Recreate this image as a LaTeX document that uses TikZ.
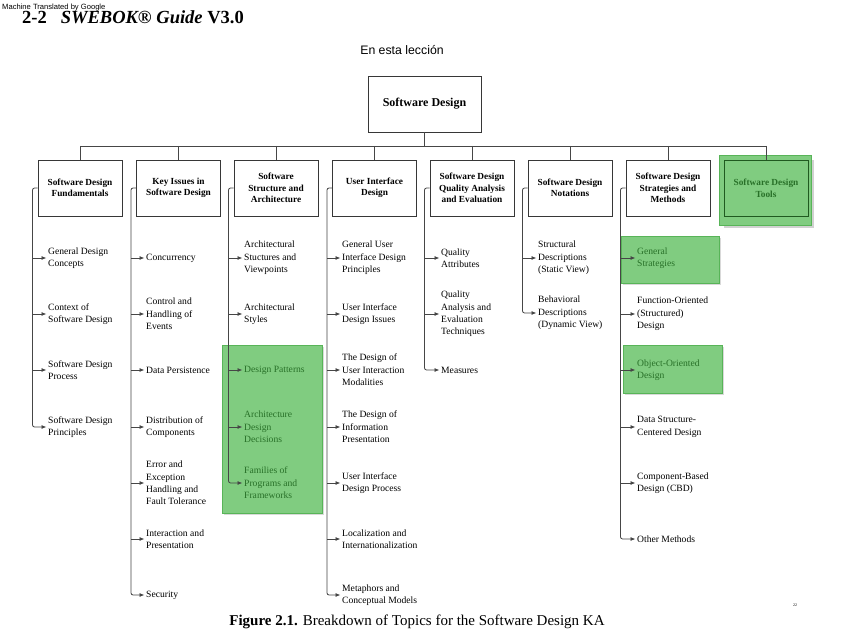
\documentclass[tikz,border=0pt]{standalone}
\usepackage{fontspec}
\setmainfont{Liberation Serif}
\newfontfamily\arialf{Liberation Sans}
\usetikzlibrary{arrows.meta,calc}
\definecolor{hlfill}{RGB}{128,204,128}
\definecolor{hlline}{RGB}{88,180,88}
\definecolor{hltext}{RGB}{40,112,40}
\definecolor{lnc}{RGB}{70,70,70}
\definecolor{boxc}{RGB}{55,55,55}
\begin{document}
\begin{tikzpicture}[x=1pt,y=-1pt,
  topbox/.style={draw=boxc,line width=0.9pt,minimum width=84pt,minimum height=56pt,align=center,inner sep=1pt,font=\fontsize{9.3}{11.5}\selectfont\bfseries},
  child/.style={anchor=west,align=left,inner sep=0pt,font=\fontsize{9.6}{12.4}\selectfont},
  gchild/.style={child,text=hltext},
  conn/.style={draw=lnc,line width=0.8pt},
  arr/.style={conn,-{Latex[length=5pt,width=4pt]},shorten >=1.5pt},
  hl/.style={fill=hlfill,draw=hlline,line width=0.8pt}
]
\useasboundingbox (0,0) rectangle (848,636);
\fill[white] (0,0) rectangle (848,636);

% header
\node[anchor=west,inner sep=0pt,font=\arialf\fontsize{7.6}{8}\selectfont] (mt) at (2,8) {Machine Translated by Google};
\node[anchor=base west,inner sep=0pt,font=\fontsize{18.5}{20}\selectfont\bfseries] (hdr) at (22,24) {2-2\hspace{14pt}\textit{SWEBOK® Guide} V3.0};
\node[inner sep=0pt,font=\arialf\fontsize{12.3}{14}\selectfont] (lesson) at (402,50) {En esta lección};

% root
\node[draw=boxc,line width=0.9pt,minimum width=113pt,minimum height=56pt,font=\fontsize{12}{14}\selectfont\bfseries] (root) at (424.5,104) {Software Design};

% highlights behind
\fill[black!18] (724,160) rectangle (814,228);
\draw[hl] (719,155) rectangle (811,225);
\fill[black!15] (224,347) rectangle (324,515);
\draw[hl] (222,345) rectangle (322,513);
\fill[black!15] (623,238) rectangle (721,285);
\draw[hl] (621,236) rectangle (719,283);
\fill[black!15] (625,347) rectangle (724,395);
\draw[hl] (623,345) rectangle (722,393);

% top level boxes
\node[topbox] (b1) at (80,188) {Software Design\\Fundamentals};
\node[topbox] (b2) at (178.5,188) {Key Issues in\\Software Design};
\node[topbox] (b3) at (276,188) {Software\\Structure and\\Architecture};
\node[topbox] (b4) at (374.5,188) {User Interface\\Design};
\node[topbox] (b5) at (472,188) {Software Design\\Quality Analysis\\and Evaluation};
\node[topbox] (b6) at (570,188) {Software Design\\Notations};
\node[topbox] (b7) at (668,188) {Software Design\\Strategies and\\Methods};
\node[topbox,draw=hltext!80!black,text=hltext] (b8) at (766,188.5) {Software Design\\Tools};

% bus
\coordinate (bus) at (424.5,146);
\draw[conn] (root.south) -- (bus);
\draw[conn] (b1.north |- bus) -- (b8.north |- bus);
\foreach \b in {b1,b2,b3,b4,b5,b6,b7,b8} \draw[conn] (\b.north |- bus) -- (\b.north);

% column 1
\node[child] (c11) at (48,258) {General Design\\Concepts};
\node[child] (c12) at (48,314) {Context of\\Software Design};
\node[child] (c13) at (48,370) {Software Design\\Process};
\node[child] (c14) at (48,427) {Software Design\\Principles};
% column 2
\node[child] (c21) at (146,258) {Concurrency};
\node[child] (c22) at (146,314) {Control and\\Handling of\\Events};
\node[child] (c23) at (146,370) {Data Persistence};
\node[child] (c24) at (146,427) {Distribution of\\Components};
\node[child] (c25) at (146,483) {Error and\\Exception\\Handling and\\Fault Tolerance};
\node[child] (c26) at (146,539) {Interaction and\\Presentation};
\node[child] (c27) at (146,595) {Security};
% column 3
\node[child] (c31) at (244,258) {Architectural\\Stuctures and\\Viewpoints};
\node[child] (c32) at (244,314) {Architectural\\Styles};
\node[gchild] (c33) at (244,370) {Design Patterns};
\node[gchild] (c34) at (244,427) {Architecture\\Design\\Decisions};
\node[gchild] (c35) at (244,483) {Families of\\Programs and\\Frameworks};
% column 4
\node[child] (c41) at (342,258) {General User\\Interface Design\\Principles};
\node[child] (c42) at (342,314) {User Interface\\Design Issues};
\node[child] (c43) at (342,370) {The Design of\\User Interaction\\Modalities};
\node[child] (c44) at (342,427) {The Design of\\Information\\Presentation};
\node[child] (c45) at (342,483) {User Interface\\Design Process};
\node[child] (c46) at (342,539) {Localization and\\Internationalization};
\node[child] (c47) at (342,595) {Metaphors and\\Conceptual Models};
% column 5
\node[child] (c51) at (441,258) {Quality\\Attributes};
\node[child] (c52) at (441,314) {Quality\\Analysis and\\Evaluation\\Techniques};
\node[child] (c53) at (441,370) {Measures};
% column 6
\node[child] (c61) at (538,258) {Structural\\Descriptions\\(Static View)};
\node[child] (c62) at (538,313) {Behavioral\\Descriptions\\(Dynamic View)};
% column 7
\node[gchild] (c71) at (637,258) {General\\Strategies};
\node[child] (c72) at (637,314) {Function-Oriented\\(Structured)\\Design};
\node[gchild] (c73) at (637,370) {Object-Oriented\\Design};
\node[child] (c74) at (637,427) {Data Structure-\\Centered Design};
\node[child] (c75) at (637,483) {Component-Based\\Design (CBD)};
\node[child] (c76) at (637,539) {Other Methods};

% connectors: stub + vertical + arrows
\foreach \b/\last/\others in {b1/c14/{c11,c12,c13},b2/c27/{c21,c22,c23,c24,c25,c26},b3/c35/{c31,c32,c33,c34},b4/c47/{c41,c42,c43,c44,c45,c46},b5/c53/{c51,c52},b6/c62/{c61},b7/c76/{c71,c72,c73,c74,c75}}{
  \coordinate (v\b) at ($(\b.west)+(-5,0)$);
  \draw[arr,rounded corners=2pt] (\b.west) -- (v\b) |- (\last.west);
  \foreach \c in \others {\draw[arr] (\c.west -| v\b) -- (\c.west);}
}

% footer
\node[inner sep=0pt,font=\fontsize{4}{5}\selectfont] (pg) at (795,605) {22};
\node[inner sep=0pt,font=\fontsize{15}{17}\selectfont] (cap) at (417,622) {\textbf{Figure 2.1.} Breakdown of Topics for the Software Design KA};
\end{tikzpicture}
\end{document}
